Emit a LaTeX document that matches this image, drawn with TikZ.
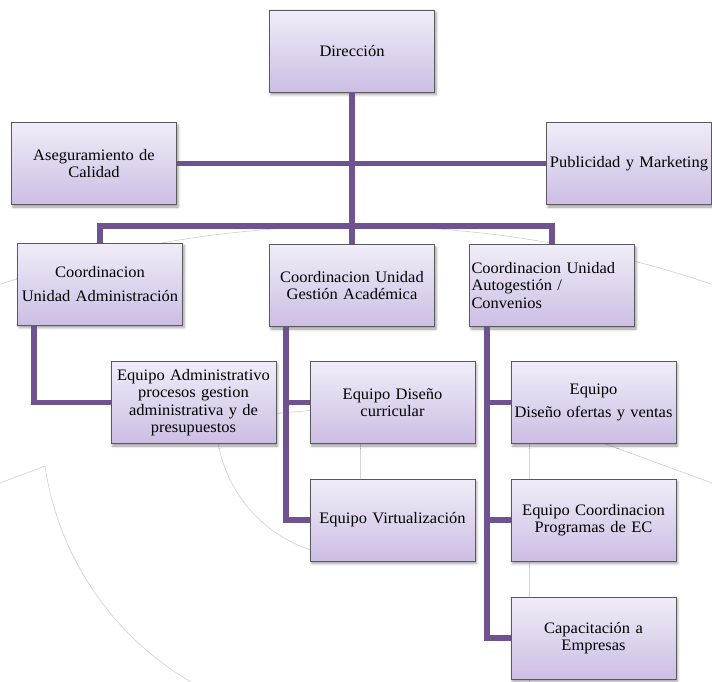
\documentclass[tikz,border=0pt]{standalone}
\usepackage{fontspec}
\setmainfont{Liberation Serif}[FakeStretch=1.03]
\usetikzlibrary{shadows.blur,calc}
\definecolor{conn}{RGB}{111,83,145}
\definecolor{boxtop}{RGB}{241,236,248}
\definecolor{boxbot}{RGB}{204,190,228}
\definecolor{boxline}{RGB}{90,90,90}
\definecolor{bgline}{RGB}{212,212,212}
\begin{document}
\begin{tikzpicture}[x=1pt,y=-1pt,
  orgbox/.style={draw=boxline, line width=0.8pt, top color=boxtop, bottom color=boxbot,
    minimum width=165pt, minimum height=82pt, inner sep=2pt, text width=161pt, align=center,
    font=\fontsize{16}{17.4}\selectfont,
    blur shadow={shadow xshift=1.5pt, shadow yshift=-2.5pt, shadow blur radius=2.5pt}},
  link/.style={draw=conn, line width=5.5pt},
  bgl/.style={draw=bgline, line width=0.7pt}]
\useasboundingbox (0,0) rectangle (712,682);
\begin{scope}
  \clip (0,0) rectangle (712,682);
  \draw[bgl] (356,1336) circle[radius=1110pt];
  \draw[bgl] (0,483) -- (45,466) arc[start angle=188.4, end angle=243, radius=301pt];
  \draw[bgl] (216.5,431) arc[start angle=185, end angle=255, radius=138pt];
  \draw[bgl] (270,414) -- (316,410);
  \draw[bgl] (360,440) -- (360,484);
  \draw[bgl] (529,440) -- (529,682);
  \draw[bgl] (600,442) -- (712,483);
\end{scope}
\node[orgbox] (dir) at (352,51) {Dirección};
\node[orgbox] (aseg) at (94,163.5) {Aseguramiento de\\Calidad};
\node[orgbox] (pub) at (629,163.5) {Publicidad y Marketing};
\node[orgbox] (ca) at (100,284) {Coordinacion\\[6pt]Unidad Administración};
\node[orgbox] (cg) at (352,285.5) {Coordinacion Unidad\\Gestión Académica};
\node[orgbox, align=left] (cau) at (552,285.5) {Coordinacion Unidad\\Autogestión /\\Convenios};
\node[orgbox] (ea) at (193.5,402.5) {Equipo Administrativo\\procesos gestion\\administrativa y de\\presupuestos};
\node[orgbox] (edc) at (392.5,402.5) {Equipo Diseño\\curricular};
\node[orgbox] (ev) at (392.5,520) {Equipo Virtualización};
\node[orgbox] (edo) at (593.5,402.5) {Equipo\\[5pt]Diseño ofertas y ventas};
\node[orgbox] (ecp) at (593.5,520) {Equipo Coordinacion\\Programas de EC};
\node[orgbox] (cap) at (593.5,638) {Capacitación a\\Empresas};
\coordinate (bar) at (352,226);
\coordinate (caS) at ([xshift=17pt]ca.south west);
\coordinate (cgS) at ([xshift=17pt]cg.south west);
\coordinate (cauS) at ([xshift=18pt]cau.south west);
\draw[link] (dir.south) -- (cg.north);
\draw[link] (aseg.east) -- (pub.west);
\draw[link] (ca.north) |- (bar) -| (cau.north);
\draw[link] (caS) |- (ea.west);
\draw[link] (cgS) |- (ev.west);
\draw[link] (edc.west -| cgS) -- (edc.west);
\draw[link] (cauS) |- (cap.west);
\draw[link] (edo.west -| cauS) -- (edo.west);
\draw[link] (ecp.west -| cauS) -- (ecp.west);
\end{tikzpicture}
\end{document}
